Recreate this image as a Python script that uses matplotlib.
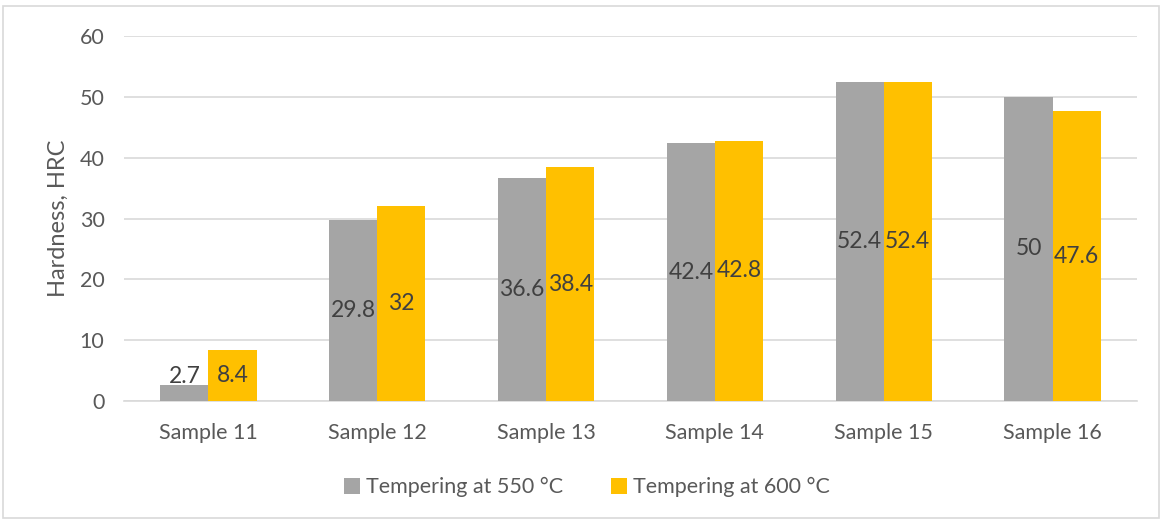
import numpy as np
import matplotlib.pyplot as plt
from matplotlib.patches import Rectangle

samples = ['Sample 11', 'Sample 12', 'Sample 13', 'Sample 14', 'Sample 15', 'Sample 16']
hrc_550 = [2.7, 29.8, 36.6, 42.4, 52.4, 50]
hrc_600 = [8.4, 32, 38.4, 42.8, 52.4, 47.6]
labels_550 = ['2.7', '29.8', '36.6', '42.4', '52.4', '50']
labels_600 = ['8.4', '32', '38.4', '42.8', '52.4', '47.6']

gray = '#A5A5A5'
gold = '#FFC000'
txt = '#595959'

plt.rcParams['font.family'] = ['Lato', 'DejaVu Sans']

fig = plt.figure(figsize=(11.62, 5.2), dpi=100)
fig.patches.append(Rectangle((0.003, 0.004), 0.994, 0.985, transform=fig.transFigure,
                             fill=False, edgecolor='#D9D9D9', linewidth=1.2))
ax = fig.add_axes([0.1067, 0.2288, 0.8718, 0.702])

x = np.arange(len(samples))
w = 0.285
ax.bar(x - w / 2, hrc_550, w, color=gray, label='Tempering at 550 °C', zorder=3)
ax.bar(x + w / 2, hrc_600, w, color=gold, label='Tempering at 600 °C', zorder=3)

for xi, v, s in zip(x, hrc_550, labels_550):
    ax.text(xi - w / 2, max(v / 2, 4), s, ha='center', va='center', fontsize=16.5, color='#404040', zorder=4)
for xi, v, s in zip(x, hrc_600, labels_600):
    ax.text(xi + w / 2, max(v / 2, 4), s, ha='center', va='center', fontsize=16.5, color='#404040', zorder=4)

ax.set_xlim(-0.5, len(samples) - 0.5)
ax.set_ylim(0, 60)
ax.set_yticks([0, 10, 20, 30, 40, 50, 60])
ax.set_xticks(x)
ax.set_xticklabels(samples)
ax.grid(axis='y', color='#D9D9D9', linewidth=1.2, zorder=0)
for sp in ['top', 'right', 'left']:
    ax.spines[sp].set_visible(False)
ax.spines['bottom'].set_color('#D9D9D9')
ax.spines['bottom'].set_linewidth(1.2)
ax.tick_params(axis='both', length=0, labelsize=15.5, colors=txt, pad=14)
ax.tick_params(axis='x', pad=16)
ax.set_ylabel('Hardness, HRC', fontsize=17, color=txt, labelpad=8)

fig.legend(loc='center', bbox_to_anchor=(0.505, 0.063), ncol=2, frameon=False,
           fontsize=15.5, labelcolor=txt, handlelength=0.75, handleheight=0.75,
           handletextpad=0.3, columnspacing=2.2)

fig.savefig('out.png', dpi=100)
